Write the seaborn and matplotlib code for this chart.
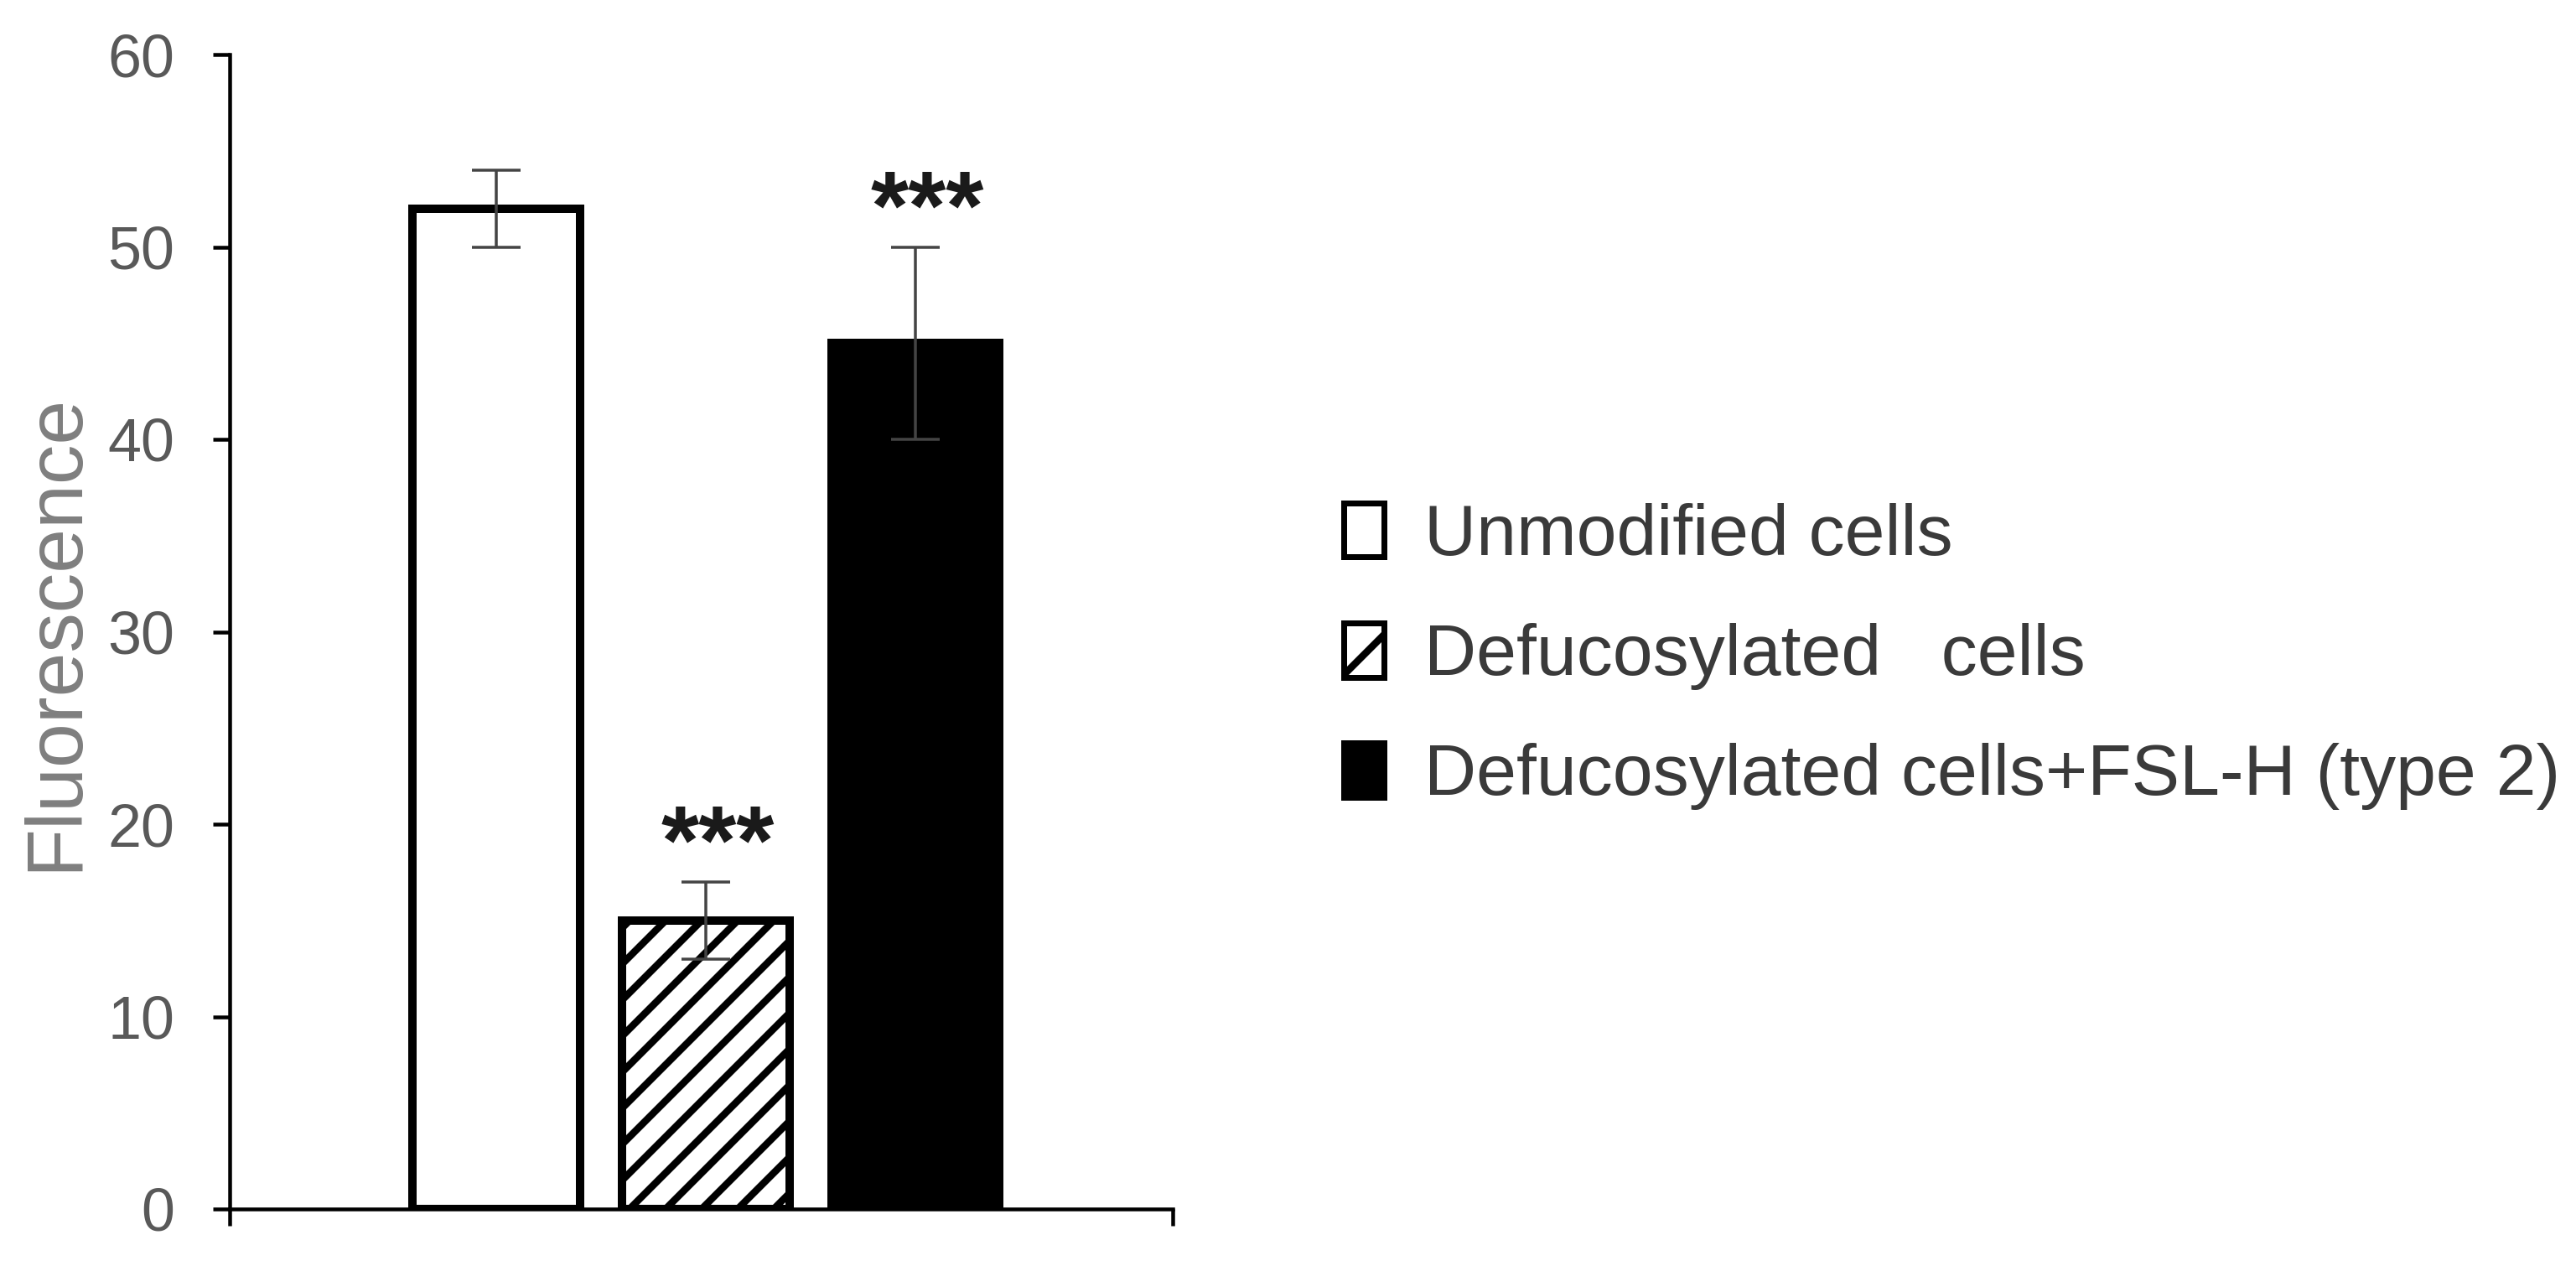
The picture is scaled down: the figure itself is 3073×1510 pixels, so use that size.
import numpy as np
import pandas as pd
import matplotlib
matplotlib.use("Agg")
import matplotlib.pyplot as plt
from matplotlib.patches import Patch
import seaborn as sns

# ---- data ----
categories = ["Unmodified cells", "Defucosylated   cells", "Defucosylated cells+FSL-H (type 2)"]
values = [52, 15, 45]
errors = [2, 2, 5]
stars = ["", "***", "***"]
y_ticks = [0, 10, 20, 30, 40, 50, 60]
y_label = "Fluorescence"

facecolors = ["white", "white", "black"]
hatches = ["", "//", ""]

DPI = 258
W, H = 3073, 1510
PT = 72.0 / DPI

sns.set_theme(style="white")
plt.rcParams["font.family"] = ["Liberation Sans", "DejaVu Sans"]
plt.rcParams["hatch.linewidth"] = 8.5 * PT
plt.rcParams["hatch.color"] = "black"

fig = plt.figure(figsize=(W / DPI, H / DPI), dpi=DPI)
ax_left, ax_right = 274 / W, 1399 / W
ax_bottom, ax_top = (H - 1442) / H, (H - 65) / H
ax = fig.add_axes([ax_left, ax_bottom, ax_right - ax_left, ax_top - ax_bottom])

df = pd.DataFrame({"cat": categories, "val": values})
sns.barplot(data=df, x="cat", y="val", hue="cat", palette=dict(zip(categories, facecolors)),
            order=categories, hue_order=categories, dodge=False, width=0.8,
            errorbar=None, legend=False, ax=ax, saturation=1)

bars = [c[0] for c in ax.containers]
for bar, fc, h in zip(bars, facecolors, hatches):
    bar.set_facecolor(fc)
    bar.set_edgecolor("black")
    bar.set_linewidth(10 * PT)
    bar.set_hatch(h)
    bar.set_zorder(2)

xpos = np.arange(len(categories))
ax.errorbar(xpos, values, yerr=errors, fmt="none", ecolor="#444444",
            elinewidth=3.5 * PT, capsize=29 * PT, capthick=3.5 * PT, zorder=3)

for x, v, e, s in zip(xpos, values, errors, stars):
    if s:
        ax.text(x + 0.06, v + e + 0.4, s, ha="center", va="baseline",
                fontsize=116 * PT, fontweight="bold", color="#1a1a1a")

ax.set_xlim(-1.27, 3.23)
ax.set_ylim(0, 60)
ax.set_yticks(y_ticks)
ax.set_yticklabels([str(t) for t in y_ticks])
ax.set_xticks([-1.27, 3.23])
ax.set_xticklabels(["", ""])
ax.set_xlabel("")
ax.set_ylabel(y_label, fontsize=95 * PT, color="#7f7f7f")
ax.yaxis.set_label_coords(-0.145, 0.5)

for side in ["top", "right"]:
    ax.spines[side].set_visible(False)
for side in ["left", "bottom"]:
    ax.spines[side].set_color("black")
    ax.spines[side].set_linewidth(4.5 * PT)
    ax.spines[side].set_zorder(4)

ax.tick_params(axis="y", which="major", direction="out", length=20 * PT, width=4.5 * PT,
               color="black", labelsize=72 * PT, labelcolor="#595959", pad=46 * PT, left=True)
ax.tick_params(axis="x", which="major", direction="out", length=20 * PT, width=4.5 * PT,
               color="black", bottom=True, labelbottom=False)
ax.set_facecolor("white")
ax.grid(False)

handles = [Patch(facecolor=fc, edgecolor="black", hatch=("/" if h else ""), linewidth=7 * PT)
           for fc, h in zip(facecolors, hatches)]
fs_leg = 86 * PT
leg = fig.legend(handles, categories, loc="center left",
                 bbox_to_anchor=(1603 / W, (H - 783) / H), bbox_transform=fig.transFigure,
                 frameon=False, fontsize=fs_leg, handlelength=48 / 86, handleheight=67 / 86,
                 handletextpad=48 / 86, labelspacing=0.73, borderpad=0, borderaxespad=0)
for t in leg.get_texts():
    t.set_color("#3a3a3a")

fig.savefig("out.png", dpi=DPI, facecolor="white")
